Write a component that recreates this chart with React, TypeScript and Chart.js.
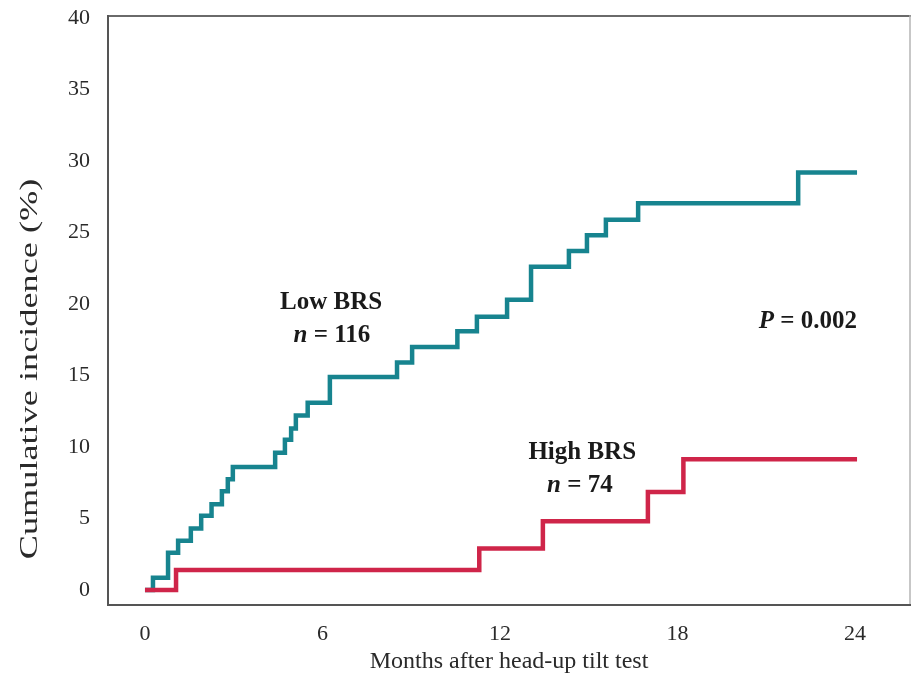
import React, { useEffect, useRef } from "react";
import { Chart, registerables } from "chart.js";

Chart.register(...registerables);

// ---- data ----
const xTickValues = [0, 6, 12, 18, 24];
const yTickValues = [0, 5, 10, 15, 20, 25, 30, 35, 40];

const lowMonths = [0, 0.27, 0.78, 1.12, 1.55, 1.9, 2.25, 2.6, 2.8, 2.97, 4.4, 4.73, 4.94, 5.1, 5.5, 6.25, 8.52, 9.03, 10.56, 11.22, 12.24, 13.05, 14.33, 14.94, 15.58, 16.67, 22.08, 24.07];
const lowIncidence = [0, 0.85, 2.6, 3.45, 4.3, 5.2, 6.0, 6.9, 7.75, 8.6, 9.6, 10.5, 11.3, 12.2, 13.1, 14.9, 15.9, 17.0, 18.1, 19.1, 20.3, 22.6, 23.7, 24.8, 25.9, 27.05, 29.2, 29.2];

const highMonths = [0, 1.05, 11.3, 13.45, 17.0, 18.2, 24.07];
const highIncidence = [0, 1.4, 2.9, 4.8, 6.85, 9.15, 9.15];

const xTitle = "Months after head-up tilt test";
const yTitle = "Cumulative incidence (%)";

const SERIF = "'Liberation Serif', 'Times New Roman', serif";

type Run = { t: string; f: string };

function drawRuns(ctx: CanvasRenderingContext2D, runs: Run[], cx: number, cy: number) {
  let total = 0;
  const widths = runs.map((r) => {
    ctx.font = r.f;
    const w = ctx.measureText(r.t).width;
    total += w;
    return w;
  });
  let x = cx - total / 2;
  ctx.textAlign = "left";
  ctx.textBaseline = "middle";
  runs.forEach((r, i) => {
    ctx.font = r.f;
    ctx.fillText(r.t, x, cy);
    x += widths[i];
  });
}

const B = `bold 25px ${SERIF}`;
const BI = `italic bold 25px ${SERIF}`;

const decorPlugin = {
  id: "decor",
  beforeDatasetsDraw(chart: any) {
    const { ctx, chartArea: a } = chart;
    ctx.save();
    ctx.lineCap = "square";
    const line = (x1: number, y1: number, x2: number, y2: number, c: string, w: number) => {
      ctx.beginPath();
      ctx.strokeStyle = c;
      ctx.lineWidth = w;
      ctx.moveTo(x1, y1);
      ctx.lineTo(x2, y2);
      ctx.stroke();
    };
    line(a.left, a.top, a.right, a.top, "#6a6a6a", 2);
    line(a.right, a.top, a.right, a.bottom, "#b5b5b5", 1.5);
    line(a.left, a.top, a.left, a.bottom, "#555", 2);
    line(a.left, a.bottom, a.right, a.bottom, "#555", 2);
    ctx.restore();
  },
  afterDraw(chart: any) {
    const { ctx } = chart;
    const xs = chart.scales.x;
    const ys = chart.scales.y;
    ctx.save();
    ctx.fillStyle = "#1a1a1a";
    const px = (v: number) => xs.getPixelForValue(v);
    const py = (v: number) => ys.getPixelForValue(v);
    drawRuns(ctx, [{ t: "Low BRS", f: B }], px(6.29), py(20.07));
    drawRuns(ctx, [{ t: "n", f: BI }, { t: " = 116", f: B }], px(6.32), py(17.8));
    drawRuns(ctx, [{ t: "High BRS", f: B }], px(14.78), py(9.58));
    drawRuns(ctx, [{ t: "n", f: BI }, { t: " = 74", f: B }], px(14.7), py(7.27));
    drawRuns(ctx, [{ t: "P", f: BI }, { t: " = 0.002", f: B }], px(22.41), py(18.8));

    // y-axis title
    ctx.fillStyle = "#2a2a2a";
    ctx.font = `25px ${SERIF}`;
    ctx.textAlign = "center";
    ctx.textBaseline = "middle";
    ctx.translate(30, 369);
    ctx.rotate(-Math.PI / 2);
    ctx.scale(1.45, 1);
    ctx.fillText(yTitle, 0, 0);
    ctx.restore();
  },
};

export default function App() {
  const ref = useRef<HTMLCanvasElement | null>(null);

  useEffect(() => {
    if (!ref.current) return;
    const chart = new Chart(ref.current, {
      type: "line",
      data: {
        datasets: [
          {
            label: "High BRS",
            data: highMonths.map((m, i) => ({ x: m, y: highIncidence[i] })),
            borderColor: "#cf2549",
            borderWidth: 4.5,
            stepped: "before",
            pointRadius: 0,
            fill: false,
            borderCapStyle: "butt",
            borderJoinStyle: "miter",
          },
          {
            label: "Low BRS",
            data: lowMonths.map((m, i) => ({ x: m, y: lowIncidence[i] })),
            borderColor: "#17848f",
            borderWidth: 4.5,
            stepped: "before",
            pointRadius: 0,
            fill: false,
            borderCapStyle: "butt",
            borderJoinStyle: "miter",
          },
        ],
      },
      options: {
        animation: false,
        responsive: false,
        layout: { padding: { left: 0, right: 2, top: 16, bottom: 0 } },
        plugins: { legend: { display: false }, tooltip: { enabled: false } },
        scales: {
          x: {
            type: "linear",
            min: -1.25,
            max: 25.86,
            grid: { display: false },
            border: { display: false },
            afterBuildTicks: (s: any) => {
              s.ticks = xTickValues.map((v) => ({ value: v }));
            },
            afterFit: (s: any) => {
              s.height = 72;
              s.paddingLeft = 0;
              s.paddingRight = 0;
            },
            ticks: {
              color: "#2a2a2a",
              padding: 8,
              maxRotation: 0,
              font: { family: SERIF, size: 22 },
            },
            title: {
              display: true,
              text: xTitle,
              color: "#2a2a2a",
              font: { family: SERIF, size: 24 },
              padding: { top: 0, bottom: 1 },
            },
          },
          y: {
            type: "linear",
            min: -1.05,
            max: 40.14,
            grid: { display: false },
            border: { display: false },
            afterBuildTicks: (s: any) => {
              s.ticks = yTickValues.map((v) => ({ value: v }));
            },
            afterFit: (s: any) => {
              s.width = 108;
              s.paddingTop = 0;
              s.paddingBottom = 0;
            },
            ticks: {
              color: "#2a2a2a",
              padding: 10,
              font: { family: SERIF, size: 22 },
            },
          },
        },
      },
      plugins: [decorPlugin],
    } as any);
    return () => chart.destroy();
  }, []);

  return (
    <div style={{ position: "absolute", left: 0, top: 0, width: 912, height: 677, background: "#fff" }}>
      <canvas ref={ref} width={912} height={677} style={{ display: "block" }} />
    </div>
  );
}
